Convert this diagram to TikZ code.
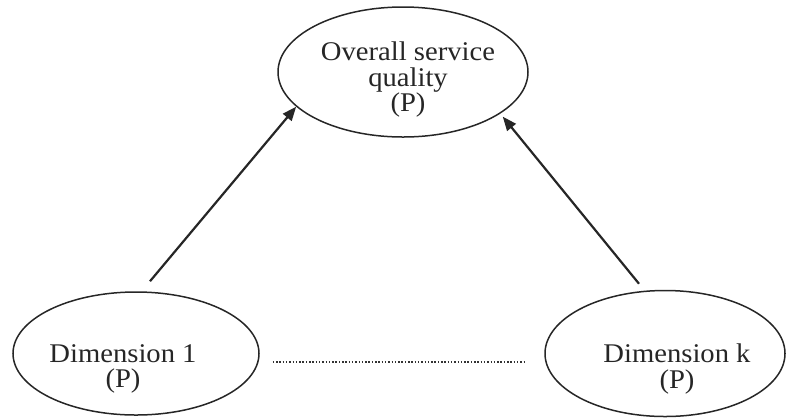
\documentclass[tikz,border=0pt]{standalone}
\usepackage{fontspec}
\setmainfont[FakeStretch=1.06]{Liberation Serif}
\usetikzlibrary{shapes.geometric,arrows.meta}
\begin{document}
\begin{tikzpicture}[x=1bp,y=-1bp,
  oval/.style={draw=black!85,shape=ellipse,line width=1.5bp,inner sep=0pt},
  lbl/.style={align=center,text=black!85,inner sep=0pt,font=\fontsize{27bp}{25.5bp}\selectfont},
  arr/.style={draw=black!85,line width=2.2bp,-{Triangle[length=14bp,width=11bp]}},
  dots/.style={draw=black!80,line width=1.6bp,dash pattern=on 1.5bp off 1.8bp}]
\useasboundingbox (0,0) rectangle (787,418);
\node[oval,minimum width=250bp,minimum height=130bp] (top) at (403,72) {};
\node[oval,minimum width=246bp,minimum height=123bp] (d1) at (136,353.5) {};
\node[oval,minimum width=240bp,minimum height=126bp] (dk) at (665,353.5) {};
\node[lbl] (ttop) at (408,80) {Overall service\\quality\\(P)};
\node[lbl] (td1) at (123,369) {Dimension 1\\(P)};
\node[lbl] (tdk) at (677,369) {Dimension k\\(P)};
\draw[arr] ([shift={(14,-10)}]d1.north) -- (top.198);
\draw[arr] ([shift={(-26,-6)}]dk.north) -- ([shift={(4,2)}]top.336);
\draw[dots] ([shift={(13,8.5)}]d1.east) -- ([shift={(-18,8.5)}]dk.west);
\end{tikzpicture}
\end{document}
